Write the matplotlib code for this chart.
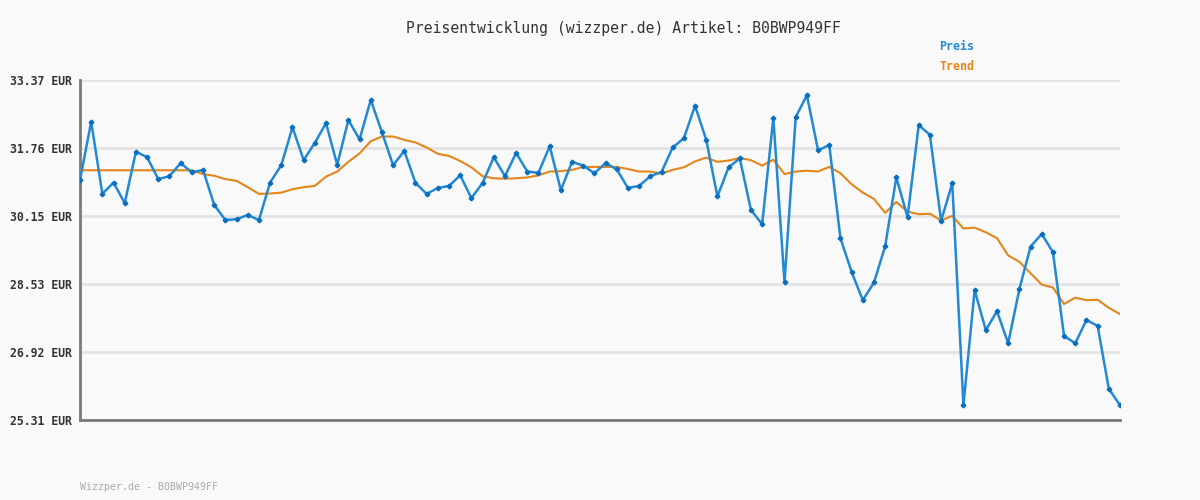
import numpy as np
import matplotlib.pyplot as plt

# price history (EUR)
preis = [
    31.00, 32.38, 30.67, 30.94, 30.45, 31.67, 31.54, 31.02, 31.09, 31.40,
    31.18, 31.24, 30.41, 30.05, 30.07, 30.17, 30.05, 30.94, 31.35, 32.25,
    31.47, 31.88, 32.35, 31.36, 32.42, 31.96, 32.90, 32.13, 31.35, 31.69,
    30.93, 30.67, 30.81, 30.86, 31.11, 30.57, 30.93, 31.54, 31.09, 31.64,
    31.20, 31.17, 31.80, 30.76, 31.43, 31.34, 31.16, 31.40, 31.25, 30.81,
    30.86, 31.09, 31.19, 31.77, 31.99, 32.76, 31.95, 30.61, 31.30, 31.51,
    30.29, 29.95, 32.47, 28.57, 32.49, 33.01, 31.70, 31.83, 29.62, 28.82,
    28.15, 28.57, 29.43, 31.06, 30.12, 32.30, 32.07, 30.03, 30.92, 25.66,
    28.39, 27.44, 27.89, 27.13, 28.41, 29.42, 29.72, 29.29, 27.30, 27.13,
    27.68, 27.54, 26.05, 25.66,
]

trend = [
    31.23, 31.23, 31.23, 31.23, 31.23, 31.23, 31.23, 31.23, 31.23, 31.23,
    31.23, 31.14, 31.10, 31.02, 30.98, 30.83, 30.67, 30.68, 30.70, 30.78,
    30.83, 30.86, 31.08, 31.20, 31.43, 31.63, 31.92, 32.03, 32.03, 31.95,
    31.89, 31.77, 31.62, 31.57, 31.45, 31.30, 31.09, 31.04, 31.03, 31.04,
    31.06, 31.11, 31.20, 31.21, 31.24, 31.31, 31.31, 31.31, 31.31, 31.26,
    31.20, 31.20, 31.15, 31.24, 31.30, 31.44, 31.53, 31.43, 31.46, 31.52,
    31.47, 31.34, 31.48, 31.14, 31.20, 31.22, 31.20, 31.31, 31.16, 30.90,
    30.70, 30.55, 30.22, 30.48, 30.25, 30.19, 30.20, 30.04, 30.15, 29.85,
    29.87, 29.76, 29.62, 29.21, 29.06, 28.79, 28.52, 28.45, 28.06, 28.21,
    28.15, 28.16, 27.97, 27.82,
]

y_ticks = [25.31, 26.92, 28.53, 30.15, 31.76, 33.37]
y_labels = [f'{v:.2f} EUR' for v in y_ticks]

title = 'Preisentwicklung (wizzper.de) Artikel: B0BWP949FF'
footer = 'Wizzper.de - B0BWP949FF'

bg = '#f9f9f9'
blue = '#2289d2'
orange = '#e3861c'
mono = ['DejaVu Sans Mono']

fig = plt.figure(figsize=(12, 5), dpi=100, facecolor=bg)
ax = fig.add_axes([80 / 1200, 1 - 420 / 500, 1040 / 1200, 340 / 500])
ax.set_facecolor(bg)

x = np.arange(len(preis))
ax.plot(x, trend, color=orange, lw=1.5, zorder=3)
ax.plot(x, preis, color=blue, lw=1.8, marker='P', markersize=3,
        markerfacecolor='#0a6fbf', markeredgecolor='#0a6fbf', zorder=4)

ax.set_xlim(0, len(preis) - 1)
ax.set_ylim(y_ticks[0], y_ticks[-1])
ax.set_xticks([])
ax.set_yticks(y_ticks)
ax.set_yticklabels(y_labels, family=mono, fontsize=8.3, fontweight='bold', color='#333333')
ax.tick_params(axis='y', length=0, pad=6)
ax.grid(axis='y', color='#e3e3e3', lw=2)
ax.set_axisbelow(True)

for side in ['top', 'right']:
    ax.spines[side].set_visible(False)
for side in ['left', 'bottom']:
    ax.spines[side].set_color('#7a7a7a')
    ax.spines[side].set_linewidth(2)

fig.text(623 / 1200, 1 - 28 / 500, title, ha='center', va='center',
         family=mono, fontsize=10.6, color='#333333')
fig.text(939 / 1200, 1 - 47 / 500, 'Preis', ha='left', va='center',
         family=mono, fontsize=8.4, fontweight='bold', color=blue)
fig.text(939 / 1200, 1 - 67 / 500, 'Trend', ha='left', va='center',
         family=mono, fontsize=8.4, fontweight='bold', color=orange)
fig.text(80 / 1200, 1 - 487 / 500, footer, ha='left', va='center',
         family=mono, fontsize=7.2, color='#aaaaaa')

fig.savefig('out.png', dpi=100, facecolor=bg)
